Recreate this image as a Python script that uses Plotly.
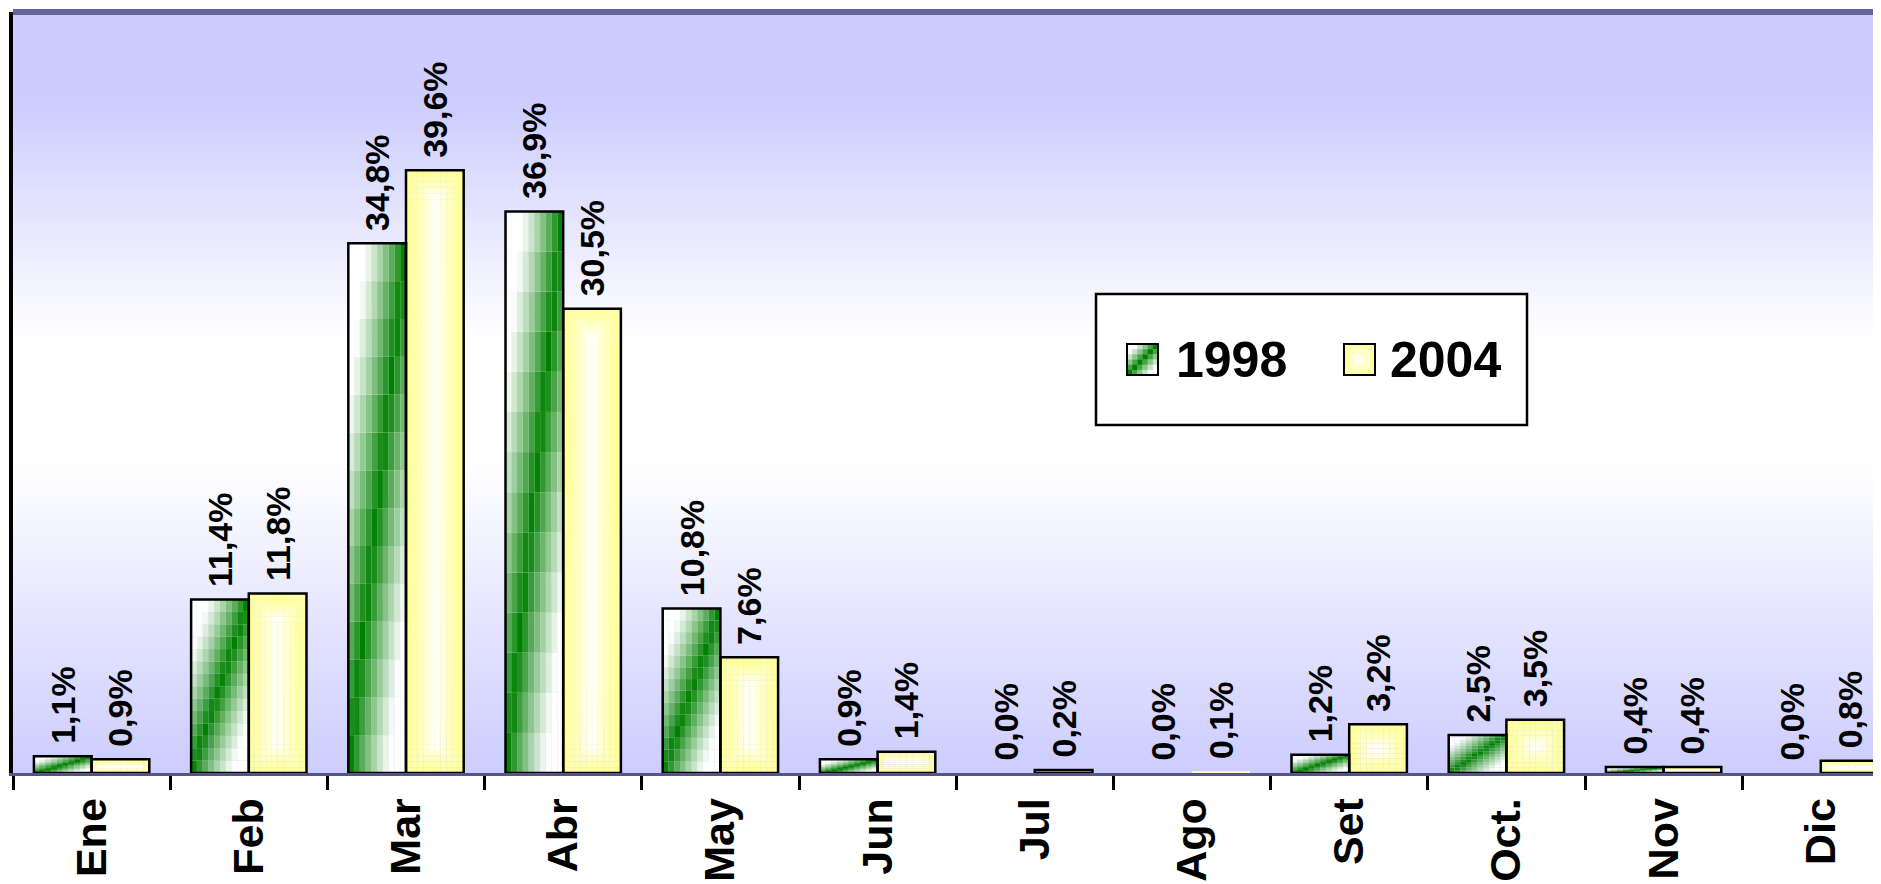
import plotly.graph_objects as go

# ---------------- data ----------------
months = ["Ene", "Feb", "Mar", "Abr", "May", "Jun", "Jul", "Ago", "Set", "Oct.", "Nov", "Dic"]
series_names = ["1998", "2004"]
values_1998 = [1.1, 11.4, 34.8, 36.9, 10.8, 0.9, 0.0, 0.0, 1.2, 2.5, 0.4, 0.0]
values_2004 = [0.9, 11.8, 39.6, 30.5, 7.6, 1.4, 0.2, 0.1, 3.2, 3.5, 0.4, 0.8]

# ---------------- styling / layout constants ----------------
FONT = "Liberation Sans, Arial, sans-serif"
FIG_W, FIG_H = 1873, 876
M_L, M_R, M_T, M_B = 5, 0, 4, 111
PW = FIG_W - M_L - M_R
PH = FIG_H - M_T - M_B
Y_MAX = 50
PX_PER_CAT = 157.2
X_RANGE = [-0.5, -0.5 + PW / PX_PER_CAT]
PX_PER_UNIT = PH / Y_MAX
BAR_W = 0.367
OFFSETS = [-BAR_W, 0.0]

WHITE = (255, 255, 255)
GREEN = (0, 128, 0)
YELLOW = (255, 255, 153)
LAVENDER = (204, 204, 255)


def mix(c1, c2, t):
    t = max(0.0, min(1.0, t))
    return tuple(round(a + (b - a) * t) for a, b in zip(c1, c2))


def rgb(c):
    return "rgb(%d,%d,%d)" % c


def diag_green(u, v):
    return max(0.0, 1 - abs(u - v) / 0.7) ** 1.2


def label(v):
    return "\u00a0" + ("%.1f" % v).replace(".", ",") + "%"


fig = go.Figure()

# ---- 1998 bars: diagonal white-green-white gradient built from bar segments ----
K1, M1 = 10, 14
for i in range(K1):
    u = (i + 0.5) / K1
    for j in range(M1):
        v = (j + 0.5) / M1
        col = rgb(mix(WHITE, GREEN, diag_green(u, v)))
        fig.add_bar(
            x=months,
            y=[val / M1 for val in values_1998],
            base=[val * j / M1 for val in values_1998],
            offset=OFFSETS[0] + i * BAR_W / K1,
            width=BAR_W / K1,
            marker=dict(color=col, line=dict(width=0)),
            hoverinfo="skip",
            showlegend=False,
        )

# ---- 2004 bars: yellow edges to white centre ("from shape" gradient) ----
K2, NB = 10, 5
w_px = BAR_W * PX_PER_CAT
for i in range(K2):
    xc = (i + 0.5) / K2 * w_px
    dx = min(xc, w_px - xc)
    for j in range(2 * NB + 1):
        bases, heights, colors = [], [], []
        for val in values_2004:
            h = val * PX_PER_UNIT
            r = min(h / 2, w_px / 2)
            edges = [r * k / NB for k in range(NB + 1)] + [h - r * k / NB for k in range(NB, -1, -1)]
            y0, y1 = edges[j], edges[j + 1]
            yc = (y0 + y1) / 2
            dy = min(yc, h - yc)
            t = min(dx, dy) / r if r > 0 else 0
            colors.append(rgb(mix(YELLOW, WHITE, t ** 1.6)))
            bases.append(y0 / PX_PER_UNIT)
            heights.append((y1 - y0) / PX_PER_UNIT)
        fig.add_bar(
            x=months,
            y=heights,
            base=bases,
            offset=OFFSETS[1] + i * BAR_W / K2,
            width=BAR_W / K2,
            marker=dict(color=colors, line=dict(width=0)),
            hoverinfo="skip",
            showlegend=False,
        )

# ---- outlines + value labels ----
for s, vals in enumerate([values_1998, values_2004]):
    fig.add_bar(
        x=months,
        y=vals,
        offset=OFFSETS[s],
        width=BAR_W,
        name=series_names[s],
        marker=dict(color="rgba(0,0,0,0)",
                    line=dict(color="black", width=[2.5 if v >= 0.15 else 0 for v in vals])),
        text=[label(v) for v in vals],
        textposition="outside",
        textangle=-90,
        constraintext="none",
        textfont=dict(family=FONT, size=34, color="black", weight="bold"),
        hoverinfo="skip",
        showlegend=False,
    )


# ---------------- background gradient & decorations ----------------
def px_x(fx):
    return (fx - M_L) / PW


def px_y(fy):
    return 1 - (fy - M_T) / PH


shapes = []
stops = [(0.0, LAVENDER), (0.41, WHITE), (0.57, WHITE), (0.884, LAVENDER), (1.0, LAVENDER)]
N = 120
for k in range(N):
    yc = (k + 0.5) / N
    for a in range(len(stops) - 1):
        if stops[a][0] <= yc <= stops[a + 1][0]:
            t = (yc - stops[a][0]) / (stops[a + 1][0] - stops[a][0])
            c = mix(stops[a][1], stops[a + 1][1], t)
            break
    shapes.append(dict(type="rect", xref="paper", yref="paper", x0=0, x1=1,
                       y0=k / N, y1=min(1.0, (k + 1) / N + 0.002),
                       fillcolor=rgb(c), line=dict(width=0), layer="below"))

# top border of the plot frame
shapes.append(dict(type="line", xref="paper", yref="paper", x0=0, x1=1, y0=1, y1=1,
                   line=dict(color="#63649A", width=6), layer="above"))

# legend box
shapes.append(dict(type="rect", xref="paper", yref="paper",
                   x0=px_x(1088), x1=px_x(1519), y0=px_y(417), y1=px_y(286),
                   fillcolor="white", line=dict(color="black", width=2.5), layer="above"))


def swatch(fx0, fy0, size, colfn):
    n = 6
    cell = size / n
    for a in range(n):
        for b in range(n):
            u = (a + 0.5) / n
            v = 1 - (b + 0.5) / n
            shapes.append(dict(type="rect", xref="paper", yref="paper",
                               x0=px_x(fx0 + a * cell), x1=px_x(fx0 + (a + 1) * cell + 0.3),
                               y0=px_y(fy0 + (b + 1) * cell + 0.3), y1=px_y(fy0 + b * cell),
                               fillcolor=rgb(colfn(u, v)), line=dict(width=0), layer="above"))
    shapes.append(dict(type="rect", xref="paper", yref="paper",
                       x0=px_x(fx0), x1=px_x(fx0 + size), y0=px_y(fy0 + size), y1=px_y(fy0),
                       fillcolor="rgba(0,0,0,0)", line=dict(color="black", width=2), layer="above"))


swatch(1119, 336, 31, lambda u, v: mix(WHITE, GREEN, diag_green(u, v)))
swatch(1336, 336, 31, lambda u, v: mix(YELLOW, WHITE, (1 - max(abs(2 * u - 1), abs(2 * v - 1))) ** 1.2))

annotations = [
    dict(text=series_names[0], xref="paper", yref="paper", x=px_x(1166), y=px_y(352),
         xanchor="left", yanchor="middle", showarrow=False,
         font=dict(family=FONT, size=50, color="black", weight="bold")),
    dict(text=series_names[1], xref="paper", yref="paper", x=px_x(1380), y=px_y(352),
         xanchor="left", yanchor="middle", showarrow=False,
         font=dict(family=FONT, size=50, color="black", weight="bold")),
]

fig.update_layout(
    width=FIG_W,
    height=FIG_H,
    margin=dict(l=M_L, r=M_R, t=M_T, b=M_B, pad=0),
    barmode="overlay",
    paper_bgcolor="white",
    plot_bgcolor=rgb(LAVENDER),
    showlegend=False,
    shapes=shapes,
    annotations=annotations,
    xaxis=dict(
        type="category",
        categoryorder="array",
        categoryarray=months,
        range=X_RANGE,
        tickson="boundaries",
        ticks="outside",
        ticklen=14,
        tickwidth=3,
        tickcolor="black",
        showline=True,
        linecolor="#55558A",
        linewidth=3,
        tickangle=-90,
        ticklabelstandoff=5,
        tickfont=dict(family=FONT, size=43, color="black", weight="bold"),
        showgrid=False,
        zeroline=False,
    ),
    yaxis=dict(
        range=[0, Y_MAX],
        showline=True,
        linecolor="black",
        linewidth=4,
        showticklabels=False,
        ticks="",
        showgrid=False,
        zeroline=False,
    ),
)

fig.write_html("out.html")
